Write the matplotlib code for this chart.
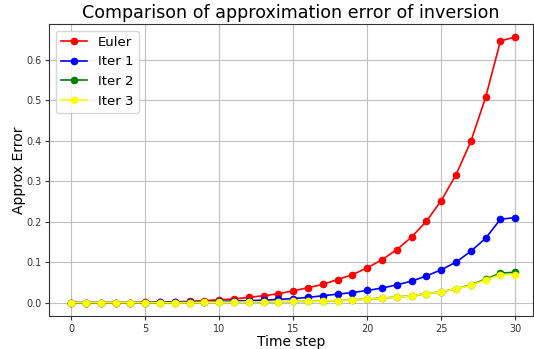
import numpy as np
import matplotlib
matplotlib.use("Agg")
import matplotlib.pyplot as plt

steps = list(range(31))
euler = [0.0, 0.0, 0.0, 0.0, 0.0, 0.001, 0.001, 0.002, 0.003, 0.005, 0.007,
         0.009, 0.013, 0.017, 0.022, 0.029, 0.037, 0.045, 0.057, 0.069, 0.086,
         0.106, 0.131, 0.162, 0.201, 0.252, 0.316, 0.398, 0.507, 0.646, 0.656]
iter1 = [0.0, 0.0, 0.0, 0.0, 0.0, 0.0, 0.001, 0.001, 0.001, 0.002, 0.003,
         0.004, 0.005, 0.006, 0.008, 0.010, 0.013, 0.017, 0.021, 0.025, 0.030,
         0.036, 0.044, 0.053, 0.066, 0.081, 0.100, 0.127, 0.159, 0.206, 0.210]
iter2 = [0.0, 0.0, 0.0, 0.0, 0.0, 0.0, 0.0, 0.0, 0.0, 0.001, 0.001,
         0.001, 0.002, 0.002, 0.002, 0.003, 0.003, 0.004, 0.005, 0.007, 0.009,
         0.011, 0.014, 0.017, 0.022, 0.027, 0.034, 0.044, 0.058, 0.073, 0.075]
iter3 = [0.0, 0.0, 0.0, 0.0, 0.0, 0.0, 0.0, 0.0, 0.0, 0.001, 0.001,
         0.001, 0.002, 0.002, 0.002, 0.003, 0.003, 0.004, 0.005, 0.007, 0.009,
         0.011, 0.014, 0.017, 0.022, 0.027, 0.034, 0.043, 0.056, 0.069, 0.069]

names = ['Euler', 'Iter 1', 'Iter 2', 'Iter 3']
colors = ['red', 'blue', 'green', 'yellow']
series = [euler, iter1, iter2, iter3]

fig = plt.figure(figsize=(5.34, 3.49), dpi=100)
ax = fig.add_axes([49 / 534, 1 - 316 / 349, 484 / 534, 292 / 349])
for vals, name, col in zip(series, names, colors):
    ax.plot(steps, vals, '-o', color=col, label=name, markersize=4.5, linewidth=1.2)

ax.set_xlim(-1.5, 31.2)
ax.set_ylim(-0.033, 0.688)
ax.set_xticks(np.arange(0, 31, 5))
ax.set_yticks(np.arange(0, 0.61, 0.1))
ax.tick_params(labelsize=7, colors='#333333', labelcolor='#333333', length=3, pad=2.5)
ax.grid(True, color='#c0c0c0', linewidth=0.8)
for s in ax.spines.values():
    s.set_color('#333333')

ax.set_title('Comparison of approximation error of inversion', fontsize=12.6, pad=4)
ax.set_xlabel('Time step', fontsize=10, labelpad=1)
ax.set_ylabel('Approx Error', fontsize=10, labelpad=0)
ax.legend(loc='upper left', fontsize=9.5)

fig.savefig('out.png', dpi=100)
